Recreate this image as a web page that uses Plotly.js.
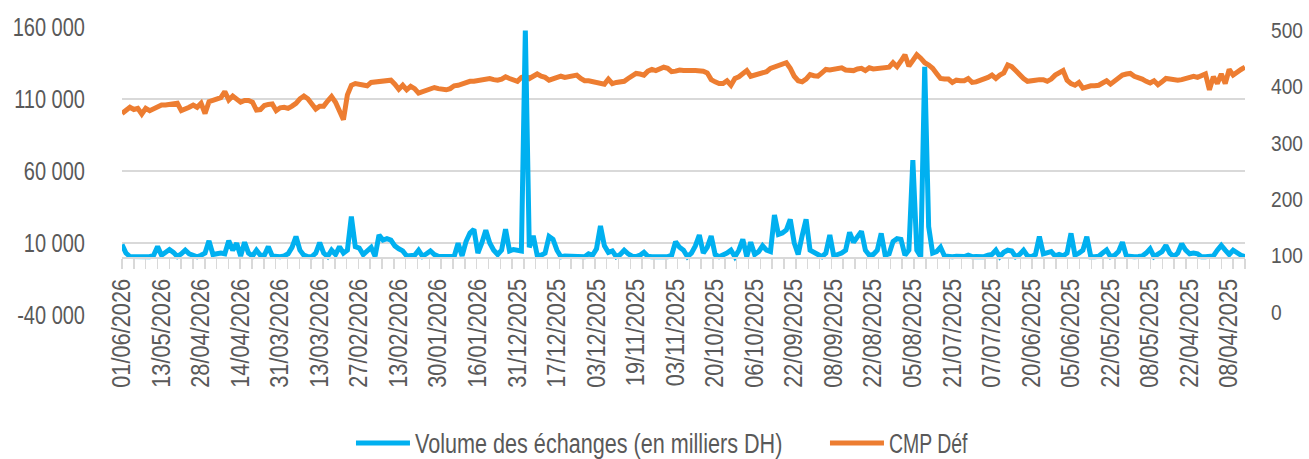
<!DOCTYPE html>
<html>
<head>
<meta charset="utf-8">
<script src="https://cdn.plot.ly/plotly-3.0.1.min.js"></script>
<style>
html,body{margin:0;padding:0;background:#fff;overflow:hidden;}
#chart{width:1309px;height:459px;}
</style>
</head>
<body>
<div id="chart"></div>
<script>
// X-axis tick labels (one label every 10 trading sessions, most recent first)
const tickLabels = ['01/06/2026','13/05/2026','28/04/2026','14/04/2026','31/03/2026','13/03/2026','27/02/2026','13/02/2026','30/01/2026','16/01/2026','31/12/2025','17/12/2025','03/12/2025','19/11/2025','03/11/2025','20/10/2025','06/10/2025','22/09/2025','08/09/2025','22/08/2025','05/08/2025','21/07/2025','07/07/2025','20/06/2025','05/06/2025','22/05/2025','08/05/2025','22/04/2025','08/04/2025'];

// Volume des échanges (en milliers DH) — left axis
const volume = [
9000,3000,600,500,400,900,700,500,1500,7500,
1500,3500,5500,3500,600,2500,5000,2500,1200,400,
1500,3000,11500,2000,2500,3000,2500,11500,5000,9800,
1000,10500,3000,1000,5000,1500,1500,7500,1000,600,
500,1000,2500,7000,14500,5000,1500,600,500,3000,
10200,3000,600,5000,2000,7400,3000,5000,28300,7400,
6500,2000,4000,7000,800,15500,12000,13000,12000,8000,
6000,4500,1000,1000,1500,5000,700,2500,4500,2000,
800,600,500,500,600,9800,1000,11000,17000,19500,
3000,10000,18800,10000,5000,2000,5000,19500,4500,5500,
5000,4500,157500,7000,15000,1500,1500,3000,14500,12500,
5000,500,1000,1000,1000,700,500,500,2500,1500,
6000,21800,8000,3500,4500,500,2000,5000,2500,800,
600,1500,3500,800,500,500,500,700,500,1500,
10900,7000,5000,500,3000,8000,15500,3000,7000,14800,
2000,500,1500,3000,5000,500,5000,12600,500,10500,
2000,4000,8000,5000,4000,29400,16000,17000,19000,26400,
10000,2000,15000,26400,5000,3000,2000,500,3000,15500,
1000,2000,3000,5000,17400,10500,14000,18100,5000,1500,
2000,5000,16700,1500,2500,11000,13000,12500,1500,5000,
67600,5000,500,132400,21300,3000,4000,7000,1000,500,
500,800,500,600,1500,500,600,500,500,1500,
2000,5000,500,3500,5000,4500,500,2000,5000,1000,
500,2000,14400,2500,3000,4000,1000,2000,1000,3000,
16700,1500,3000,5000,14400,500,500,800,3000,5100,
500,1500,4000,10500,1000,500,500,700,1000,3000,
6000,500,2000,4000,8300,3000,500,3000,9500,5000,
2500,3000,2500,500,500,800,1000,5000,8300,5000,
2000,5000,3000,1500,500
];

// CMP Déf — right axis
const cmp = [
352,358,363,359,361,351,361,357,360,363,
367,367,368,369,370,357,359,363,367,363,
370,352,373,376,378,380,391,376,383,378,
372,375,375,372,358,359,366,368,369,357,
362,363,361,365,370,378,383,378,368,360,
365,365,374,382,372,358,341,385,402,405,
404,404,401,407,408,408,409,412,411,404,
395,402,394,400,396,388,391,394,396,398,
396,395,394,396,401,402,405,408,409,409,
410,413,414,414,412,411,413,417,414,411,
409,416,418,414,418,422,418,416,411,413,
414,418,416,417,419,420,414,410,410,409,
407,405,404,413,405,407,408,409,414,419,
423,422,420,427,430,428,431,434,432,426,
427,429,428,429,428,428,428,427,424,412,
408,405,405,410,402,414,417,422,428,418,
420,421,422,426,432,435,437,439,442,432,
418,410,408,413,421,419,418,424,430,429,
431,433,433,429,428,428,431,432,428,433,
431,432,433,434,434,442,435,445,456,436,
445,456,450,442,438,432,423,414,413,413,
407,411,410,410,414,407,408,410,413,416,
420,414,420,424,438,435,428,420,414,409,
411,411,412,412,409,413,420,424,428,411,
405,402,407,397,400,401,401,402,406,410,
404,409,415,420,422,423,418,416,413,409,
406,410,403,408,414,413,411,411,412,414,
414,418,416,420,422,394,417,405,422,405,
430,420,426,430,434
];

const leftTickVals = [-40000, 10000, 60000, 110000, 160000];
const leftTickText = ['-40 000', '10 000', '60 000', '110 000', '160 000'];
const rightTickVals = [0, 100, 200, 300, 400, 500];
const rightTickText = ['0', '100', '200', '300', '400', '500'];

const idx = volume.map((_, i) => i);
const tickPos = tickLabels.map((_, k) => k * 10);

const FONT = 'Liberation Sans, Arial, sans-serif';
const GREY = '#595959';

const data = [
  {
    x: idx, y: volume, type: 'scatter', mode: 'lines',
    name: 'Volume des échanges (en milliers DH)',
    yaxis: 'y2',
    line: {color: '#00B0F0', width: 5}
  },
  {
    x: idx, y: cmp, type: 'scatter', mode: 'lines',
    name: 'CMP Déf',
    yaxis: 'y',
    line: {color: '#ED7D31', width: 5}
  }
];

const layout = {
  width: 1309, height: 459,
  margin: {l: 122, r: 64, t: 27, b: 144, pad: 0},
  paper_bgcolor: '#ffffff', plot_bgcolor: '#ffffff',
  font: {family: FONT, size: 25, color: GREY},
  showlegend: true,
  legend: {
    orientation: 'h',
    xref: 'paper', x: 0.2039, xanchor: 'left',
    yref: 'container', y: 0.034, yanchor: 'middle',
    font: {family: FONT, size: 27, color: GREY},
    itemwidth: 54, entrywidth: 405, tracegroupgap: 0,
    bgcolor: 'rgba(0,0,0,0)'
  },
  xaxis: {
    range: [0, volume.length - 1],
    anchor: 'free', position: 0.2,
    tickmode: 'array', tickvals: tickPos, ticktext: tickLabels,
    tickangle: -90, ticks: '',
    ticklabelstandoff: 10,
    showgrid: false, zeroline: false,
    showline: true, linecolor: '#d9d9d9', linewidth: 1.5,
    tickfont: {family: FONT, size: 25, color: GREY},
    minor: {ticks: 'outside', tickmode: 'linear', tick0: 0, dtick: (volume.length - 1) / 95, ticklen: 10, tickcolor: '#d9d9d9', tickwidth: 1.5, showgrid: false}
  },
  yaxis: {
    side: 'right', anchor: 'x',
    range: [-5.3, 505.3],
    tickmode: 'array', tickvals: rightTickVals, ticktext: rightTickText,
    showgrid: false, zeroline: false, showline: false, ticks: '',
    ticklabelstandoff: 25,
    tickfont: {family: FONT, size: 22, color: GREY}
  },
  yaxis2: {
    overlaying: 'y', side: 'left', anchor: 'x',
    range: [-40000, 160000],
    tickmode: 'array', tickvals: leftTickVals, ticktext: leftTickText,
    showgrid: true, gridcolor: '#d9d9d9', gridwidth: 1.5,
    zeroline: false, showline: false, ticks: '',
    ticklabelstandoff: 36,
    tickfont: {family: FONT, size: 25, color: GREY}
  }
};

// horizontal condensing of the text (imitates the narrow font of the original)
function squeeze(nodes, factor) {
  nodes.forEach(t => {
    const L = t.getComputedTextLength();
    t.setAttribute('textLength', (L * factor).toFixed(1));
    t.setAttribute('lengthAdjust', 'spacingAndGlyphs');
  });
}

Plotly.newPlot('chart', data, layout, {staticPlot: true, displayModeBar: false}).then(gd => {
  squeeze(gd.querySelectorAll('g.xtick > text'), 0.87);
  squeeze(gd.querySelectorAll('g.ytick > text'), 0.87);
  squeeze(gd.querySelectorAll('g.y2tick > text'), 0.80);
  const lt = gd.querySelectorAll('text.legendtext');
  if (lt[0]) squeeze([lt[0]], 0.80);
  if (lt[1]) squeeze([lt[1]], 0.72);
});
</script>
</body>
</html>
